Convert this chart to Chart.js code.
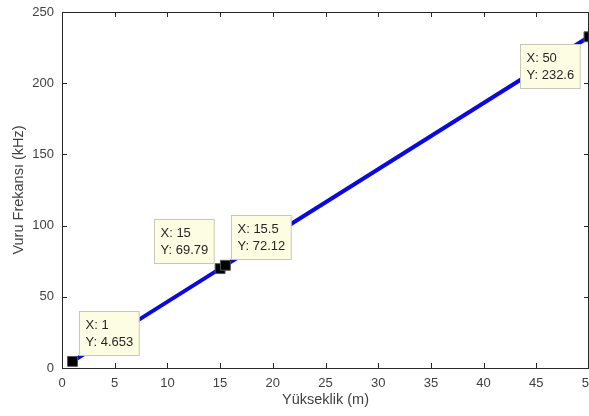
<!DOCTYPE html>
<html>
<head>
<meta charset="utf-8">
<script src="https://cdn.jsdelivr.net/npm/chart.js@4/dist/chart.umd.min.js"></script>
<style>
  html, body { margin: 0; padding: 0; background: #fff; }
  #wrap { width: 589px; height: 416px; }
</style>
</head>
<body>
<div id="wrap"><canvas id="freqChart" width="589" height="416"></canvas></div>
<script>
// data (data tips)
const heights = [1, 15, 15.5, 50];            // Yükseklik (m)
const beatFreq = [4.653, 69.79, 72.12, 232.6]; // Vuru Frekansı (kHz)
const xTicks = [0, 5, 10, 15, 20, 25, 30, 35, 40, 45, 50];
const yTicks = [0, 50, 100, 150, 200, 250];

// where each data tip box sits relative to its point
const tipPlacement = ["upRight", "upLeft", "upRight", "downLeft"];

const axisColor = "#262626";
const textColor = "#404040";
const fontFamily = "'Liberation Sans', Arial, Helvetica, sans-serif";

// MATLAB-like box with inward ticks on all four sides
const boxPlugin = {
    id: "matlabBox",
    afterDatasetsDraw(chart) {
        const { ctx, chartArea: a, scales } = chart;
        ctx.save();
        ctx.strokeStyle = axisColor;
        ctx.lineWidth = 1;
        ctx.beginPath();
        xTicks.forEach(v => {
            const x = Math.round(scales.x.getPixelForValue(v)) + 0.5;
            ctx.moveTo(x, a.bottom); ctx.lineTo(x, a.bottom - 5);
            ctx.moveTo(x, a.top); ctx.lineTo(x, a.top + 5);
        });
        yTicks.forEach(v => {
            const y = Math.round(scales.y.getPixelForValue(v)) + 0.5;
            ctx.moveTo(a.left, y); ctx.lineTo(a.left + 5, y);
            ctx.moveTo(a.right, y); ctx.lineTo(a.right - 5, y);
        });
        ctx.stroke();
        ctx.strokeRect(Math.round(a.left) + 0.5, Math.round(a.top) + 0.5,
            Math.round(a.right - a.left) - 1, Math.round(a.bottom - a.top));
        ctx.restore();
    }
};

// data tip boxes
const tipPlugin = {
    id: "dataTips",
    afterDraw(chart) {
        const { ctx, scales } = chart;
        ctx.save();
        ctx.font = "13px " + fontFamily;
        heights.forEach((h, i) => {
            const px = scales.x.getPixelForValue(h);
            const py = scales.y.getPixelForValue(beatFreq[i]);
            const l1 = "X: " + h;
            const l2 = "Y: " + beatFreq[i];
            const w = Math.max(ctx.measureText(l1).width, ctx.measureText(l2).width) + 12;
            const hgt = 44;
            let bx, by;
            switch (tipPlacement[i]) {
                case "upRight": bx = px + 6; by = py - 6 - hgt; break;
                case "upLeft": bx = px - 6 - w; by = py - 6 - hgt; break;
                case "downLeft": bx = px - 9 - w; by = py + 7; break;
                default: bx = px + 6; by = py + 6;
            }
            bx = Math.round(bx) + 0.5; by = Math.round(by) + 0.5;
            ctx.fillStyle = "#fdfde3";
            ctx.strokeStyle = "#c8c8b8";
            ctx.lineWidth = 1;
            ctx.fillRect(bx, by, w, hgt);
            ctx.strokeRect(bx, by, w, hgt);
            ctx.fillStyle = "#262626";
            ctx.textBaseline = "middle";
            ctx.fillText(l1, bx + 6, by + 14);
            ctx.fillText(l2, bx + 6, by + 31);
        });
        ctx.restore();
    }
};

const ctx = document.getElementById("freqChart").getContext("2d");

new Chart(ctx, {
    type: "scatter",
    data: {
        datasets: [
            {
                // the line itself
                data: heights.map((h, i) => ({ x: h, y: beatFreq[i] })),
                showLine: true,
                borderColor: "#0a0ae0",
                borderWidth: 4,
                pointRadius: 0,
                order: 2
            },
            {
                // data tip markers
                data: heights.map((h, i) => ({ x: h, y: beatFreq[i] })),
                showLine: false,
                pointStyle: "rect",
                pointRadius: 7,
                backgroundColor: "#000",
                borderColor: "#555",
                borderWidth: 1,
                order: 1
            }
        ]
    },
    options: {
        responsive: false,
        animation: false,
        events: [],
        layout: { autoPadding: false, padding: { top: 12, right: 0, left: 0, bottom: 0 } },
        plugins: {
            legend: { display: false },
            tooltip: { enabled: false }
        },
        scales: {
            x: {
                type: "linear",
                min: 0,
                max: 50,
                grid: { display: false, drawTicks: false, tickLength: 0 },
                border: { display: false },
                afterBuildTicks: s => { s.ticks = xTicks.map(v => ({ value: v })); },
                afterFit: s => { s.height = 48; s.paddingLeft = 0; s.paddingRight = 0; },
                ticks: {
                    padding: 8,
                    maxRotation: 0,
                    autoSkip: false,
                    color: textColor,
                    font: { family: fontFamily, size: 13 }
                },
                title: {
                    display: true,
                    text: "Yükseklik (m)",
                    color: textColor,
                    padding: { top: 0, bottom: 7 },
                    font: { family: fontFamily, size: 14.5 }
                }
            },
            y: {
                type: "linear",
                min: 0,
                max: 250,
                grid: { display: false, drawTicks: false, tickLength: 0 },
                border: { display: false },
                afterBuildTicks: s => { s.ticks = yTicks.map(v => ({ value: v })); },
                afterFit: s => { s.width = 62; s.paddingTop = 0; s.paddingBottom = 0; },
                ticks: {
                    padding: 8,
                    autoSkip: false,
                    color: textColor,
                    font: { family: fontFamily, size: 13 }
                },
                title: {
                    display: true,
                    text: "Vuru Frekansı (kHz)",
                    color: textColor,
                    padding: { top: 10, bottom: 0 },
                    font: { family: fontFamily, size: 14.5 }
                }
            }
        }
    },
    plugins: [boxPlugin, tipPlugin]
});
</script>
</body>
</html>
